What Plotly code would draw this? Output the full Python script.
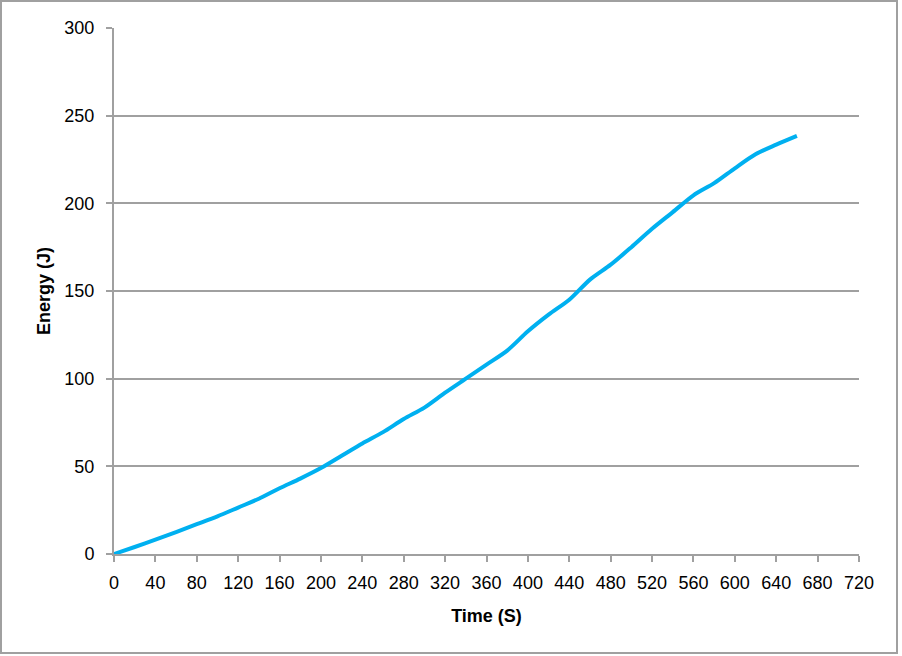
import plotly.graph_objects as go

time_s = [0, 20, 40, 60, 80, 100, 120, 140, 160, 180, 200, 220, 240, 260, 280, 300, 320,
          340, 360, 380, 400, 420, 440, 460, 480, 500, 520, 540, 560, 580, 600, 620, 640, 660]
energy_j = [0, 4, 8.2, 12.5, 17, 21.5, 26.5, 31.5, 37.5, 43, 49, 56, 63, 69.5, 77, 83.5, 92,
            100, 108, 116, 127, 136.5, 145, 156.5, 165, 175, 185.5, 195, 204.6, 211.5, 220, 228,
            233.5, 238.5]

x_ticks = list(range(0, 721, 40))
y_ticks = list(range(0, 301, 50))

FONT = "Liberation Sans"
GRID = "#a0a0a0"

fig = go.Figure(go.Scatter(
    x=time_s, y=energy_j, mode="lines",
    line=dict(color="#00b0f0", width=4, shape="spline", smoothing=0.8),
    showlegend=False,
))

W, H = 902, 656
L, R, T, B = 114, 43, 28, 102
pw, ph = W - L - R, H - T - B

fig.update_layout(
    width=W, height=H,
    margin=dict(l=L, r=R, t=T, b=B),
    paper_bgcolor="white", plot_bgcolor="white",
    font=dict(family=FONT, size=18, color="black"),
    xaxis=dict(
        range=[0, 720], tickvals=x_ticks, ticktext=[str(v) for v in x_ticks],
        showgrid=False, zeroline=False,
        showline=True, linecolor=GRID, linewidth=2,
        ticks="outside", ticklen=6, tickcolor=GRID, tickwidth=2,
        ticklabelstandoff=5,
        title=dict(text="<b>Time (S)</b>", font=dict(family=FONT, size=18), standoff=18),
    ),
    yaxis=dict(
        range=[0, 300], tickvals=y_ticks,
        showgrid=True, gridcolor=GRID, gridwidth=2, zeroline=False,
        showline=True, linecolor=GRID, linewidth=2,
        ticks="outside", ticklen=6, tickcolor=GRID, tickwidth=2,
        ticklabelstandoff=8,
        title=dict(text="<b>Energy (J)</b>", font=dict(family=FONT, size=18), standoff=9),
    ),
    shapes=[dict(
        type="rect", xref="paper", yref="paper",
        x0=(1 - L) / pw, x1=(897 - L) / pw,
        y0=-(653 - T - ph) / ph, y1=1 + (T - 1) / ph,
        line=dict(color="#a0a0a0", width=2), fillcolor="rgba(0,0,0,0)", layer="below",
    )],
)

fig.write_html("out.html", config={"displayModeBar": False},
               post_script="document.body.style.margin='0px';")
